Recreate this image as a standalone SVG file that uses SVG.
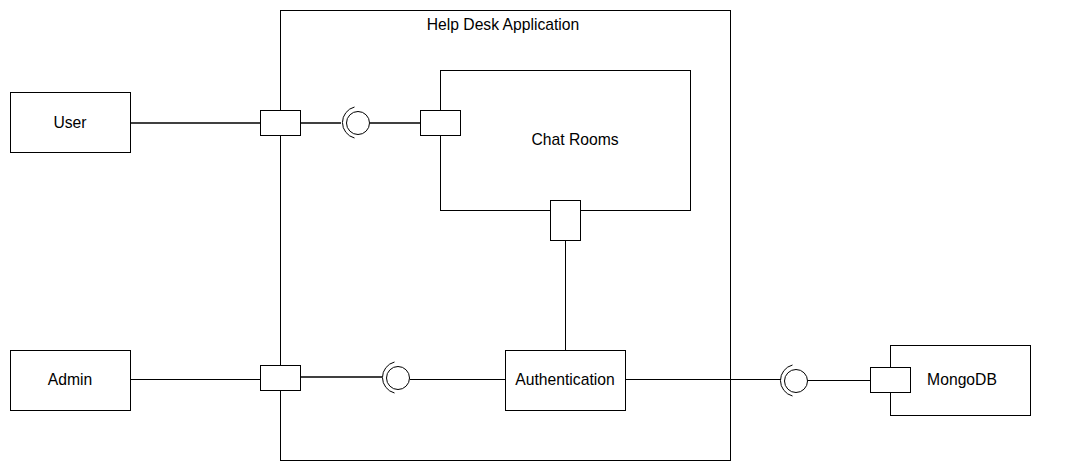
<svg xmlns="http://www.w3.org/2000/svg" width="1071" height="471" viewBox="0 0 1071 471">
<style>
.box{fill:#fff;stroke:#000;stroke-width:1}
.port{fill:#fff;stroke:#000;stroke-width:1}
.ln{fill:none;stroke:#000;stroke-width:1}
.lg{fill:none;stroke:#000;stroke-width:1.3}
.ball{fill:#fff;stroke:#000;stroke-width:1}
.sock{fill:none;stroke:#000;stroke-width:1}
text{font-family:"Liberation Sans",Arial,sans-serif;font-size:15.7px;fill:#000;text-anchor:middle;dominant-baseline:central}
</style>
<rect width="1071" height="471" fill="#fff"/>
<g id="help-desk">
<rect class="box" x="280.5" y="10.5" width="450" height="450"/>
<text x="503" y="24">Help Desk Application</text>
</g>
<g id="connectors">
<line class="lg" x1="130" y1="123" x2="260" y2="123"/>
<line class="lg" x1="300" y1="123" x2="341" y2="123"/>
<line class="lg" x1="370" y1="123" x2="420" y2="123"/>
<line class="ln" x1="280.5" y1="110" x2="280.5" y2="135"/>
<line class="ln" x1="440.5" y1="110" x2="440.5" y2="135"/>
<line class="ln" x1="130" y1="379.5" x2="260" y2="379.5"/>
<line class="lg" x1="300" y1="377" x2="382" y2="377"/>
<line class="ln" x1="410" y1="379.5" x2="505" y2="379.5"/>
<line class="ln" x1="565.5" y1="240" x2="565.5" y2="350"/>
<line class="ln" x1="625" y1="379.5" x2="781" y2="379.5"/>
<line class="ln" x1="808" y1="380.5" x2="870" y2="380.5"/>
</g>
<g id="lollipop-user">
<path class="sock" d="M354.5,107 A16,16 0 0 0 354.5,138"/>
<circle class="ball" cx="358" cy="123" r="11.5"/>
</g>
<g id="lollipop-admin">
<path class="sock" d="M394.5,362 A16,16 0 0 0 394.5,393"/>
<circle class="ball" cx="398" cy="378" r="11.5"/>
</g>
<g id="lollipop-mongo">
<path class="sock" d="M792.5,365 A16,16 0 0 0 792.5,396"/>
<circle class="ball" cx="796" cy="381" r="11.5"/>
</g>
<g id="user">
<rect class="box" x="10.5" y="92.5" width="120" height="60"/>
<text x="70" y="122">User</text>
</g>
<g id="admin">
<rect class="box" x="10.5" y="350.5" width="120" height="60"/>
<text x="70" y="379">Admin</text>
</g>
<g id="chat-rooms">
<rect class="box" x="440.5" y="70.5" width="250" height="140"/>
<text x="575" y="139">Chat Rooms</text>
</g>
<g id="authentication">
<rect class="box" x="505.5" y="350.5" width="120" height="60"/>
<text x="565" y="379">Authentication</text>
</g>
<g id="mongodb">
<rect class="box" x="890.5" y="345.5" width="140" height="70"/>
<text x="962" y="379">MongoDB</text>
</g>
<g id="ports">
<rect class="port" x="260.5" y="110.5" width="40" height="25"/>
<rect class="port" x="420.5" y="110.5" width="40" height="25"/>
<rect class="port" x="550.5" y="200.5" width="30" height="40"/>
<rect class="port" x="260.5" y="365.5" width="40" height="25"/>
<rect class="port" x="870.5" y="367.5" width="40" height="25"/>
</g>
</svg>
